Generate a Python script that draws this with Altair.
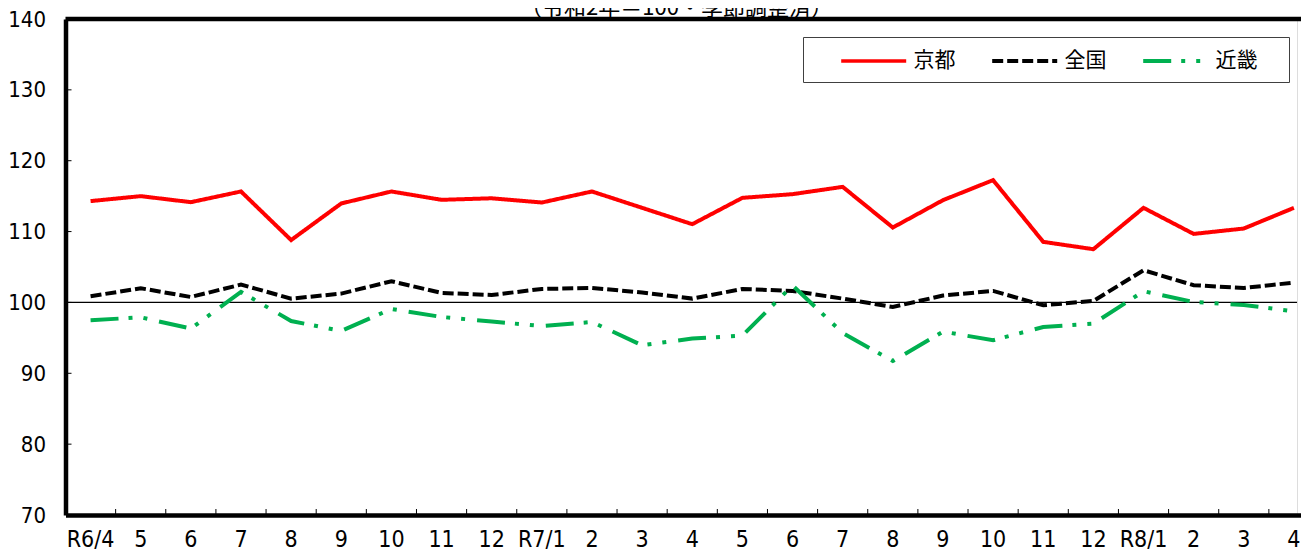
import altair as alt
import pandas as pd

# ---- data ----
tick_labels = ["R6/4", "5", "6", "7", "8", "9", "10", "11", "12", "R7/1", "2", "3",
               "4", "5", "6", "7", "8", "9", "10", "11", "12", "R8/1", "2", "3", "4"]
kyoto = [114.3, 115.0, 114.15, 115.66, 108.8, 113.97, 115.66, 114.48, 114.7, 114.1,
         115.66, 113.35, 111.04, 114.76, 115.28, 116.31, 110.57, 114.43, 117.26, 108.55,
         107.51, 113.35, 109.67, 110.43, 113.35]
zenkoku = [100.87, 102.0, 100.77, 102.52, 100.54, 101.25, 102.99, 101.34, 101.05, 101.9,
           102.04, 101.4, 100.54, 101.9, 101.62, 100.54, 99.36, 100.97, 101.62, 99.6,
           100.21, 104.54, 102.43, 102.04, 102.8]
kinki = [97.48, 97.9, 96.31, 101.48, 97.38, 95.97, 99.08, 97.95, 97.3, 96.67,
         97.24, 93.95, 94.9, 95.32, 102.4, 95.69, 91.73, 95.88, 94.66, 96.54,
         97.0, 101.58, 100.07, 99.64, 98.75]
series_names = ["京都", "全国", "近畿"]
series_colors = ["#FF0000", "#000000", "#00B050"]
series_dashes = [[1, 0], [11, 4], [28, 10, 4, 11, 4, 12]]
y_ticks = [70, 80, 90, 100, 110, 120, 130, 140]
inner_y_ticks = [80, 90, 100, 110, 120, 130]
base_value = [100]
top_value = [140]
title_text = "（令和2年＝100・季節調整済）"

n = len(tick_labels)
rows = []
for k, (name, vals) in enumerate(zip(series_names, [kyoto, zenkoku, kinki])):
    for i, v in enumerate(vals):
        rows.append({"idx": i, "series": name, "value": v, "order": k})
df = pd.DataFrame(rows)

NUM_FONT = "Liberation Sans Narrow, DejaVu Sans Condensed, Arial Narrow, sans-serif"
JP_FONT = "Noto Sans CJK JP, sans-serif"

label_expr = "[" + ",".join("'" + t + "'" for t in tick_labels) + "][datum.value]"

W = 1231.5
H = 496
RANGE_W = 1253.5

x_scale = alt.Scale(range=[0, RANGE_W], paddingInner=0, paddingOuter=0)
y_scale = alt.Scale(domain=[70, 140], nice=False, zero=False)

x_enc = alt.X("idx:O", scale=x_scale, title=None,
              axis=alt.Axis(labelExpr=label_expr, labelAngle=0, ticks=False,
                            labelFont=NUM_FONT, labelFontSize=23, labelColor="#000000",
                            labelPadding=13, domainColor="#000000", domainWidth=4.5,
                            labelOverlap=False))
y_enc = alt.Y("value:Q", scale=y_scale, title=None,
              axis=alt.Axis(values=y_ticks, ticks=False, grid=False,
                            labelFont=NUM_FONT, labelFontSize=22, labelColor="#000000",
                            labelPadding=20, domainColor="#000000", domainWidth=4.5))


def make_legend():
    return alt.Legend(title="\u00a0", titleOrient="right", titlePadding=20.5,
                      titleFontSize=20, titleFont=JP_FONT,
                      orient="none", legendX=737.5, legendY=18,
                      direction="horizontal", symbolType="M-3,0H3",
                      symbolSize=469.4, symbolStrokeWidth=4,
                      labelFont=JP_FONT, labelFontSize=21, labelColor="#000000",
                      labelOffset=26.7, columnPadding=9, symbolOffset=46.7,
                      padding=11, strokeColor="#404040", fillColor="#FFFFFF")


lines = alt.Chart(df).mark_line(strokeWidth=4, strokeCap="butt", strokeJoin="miter").encode(
    x=x_enc,
    y=y_enc,
    color=alt.Color("series:N", scale=alt.Scale(domain=series_names, range=series_colors),
                    legend=make_legend()),
    strokeDash=alt.StrokeDash("series:N", scale=alt.Scale(domain=series_names, range=series_dashes),
                              legend=make_legend()),
    strokeWidth=alt.StrokeWidth("series:N", scale=alt.Scale(domain=series_names, range=[3.5, 4.2, 4]),
                                legend=None),
    order=alt.Order("order:Q"),
    detail="series:N",
)

base_df = pd.DataFrame({"value": base_value})
base_rule = alt.Chart(base_df).mark_rule(color="#000000", strokeWidth=1.3).encode(
    y=alt.Y("value:Q", scale=y_scale))

top_df = pd.DataFrame({"value": top_value})
top_rule = alt.Chart(top_df).mark_rule(color="#000000", strokeWidth=4.5, clip=False).encode(
    y=alt.Y("value:Q", scale=y_scale), x=alt.value(0), x2=alt.value(1260))

ytick_df = pd.DataFrame({"value": inner_y_ticks})
ytick_rules = alt.Chart(ytick_df).mark_rule(color="#000000", strokeWidth=1).encode(
    y=alt.Y("value:Q", scale=y_scale), x=alt.value(0), x2=alt.value(6))

xtick_df = pd.DataFrame({"idx": list(range(1, n))})
xtick_rules = alt.Chart(xtick_df).mark_rule(color="#000000", strokeWidth=1).encode(
    x=alt.X("idx:O", scale=x_scale, bandPosition=0),
    y=alt.value(H), y2=alt.value(H - 6))

title_df = pd.DataFrame({"t": [title_text]})
title_mark = alt.Chart(title_df).mark_text(font=JP_FONT, fontSize=22, color="#000000",
                                           align="center", baseline="alphabetic",
                                           clip=False).encode(
    text="t:N", x=alt.value(611), y=alt.value(-4))

chart = alt.layer(base_rule, lines, ytick_rules, xtick_rules, top_rule, title_mark).properties(
    width=W, height=H,
    autosize=alt.AutoSizeParams(type="none"),
    padding={"left": 57.5, "top": 11, "right": 4, "bottom": 36},
).configure_view(stroke=None).configure(background="#FFFFFF")

chart.save("out.html", embed_options={"renderer": "svg", "actions": False})
